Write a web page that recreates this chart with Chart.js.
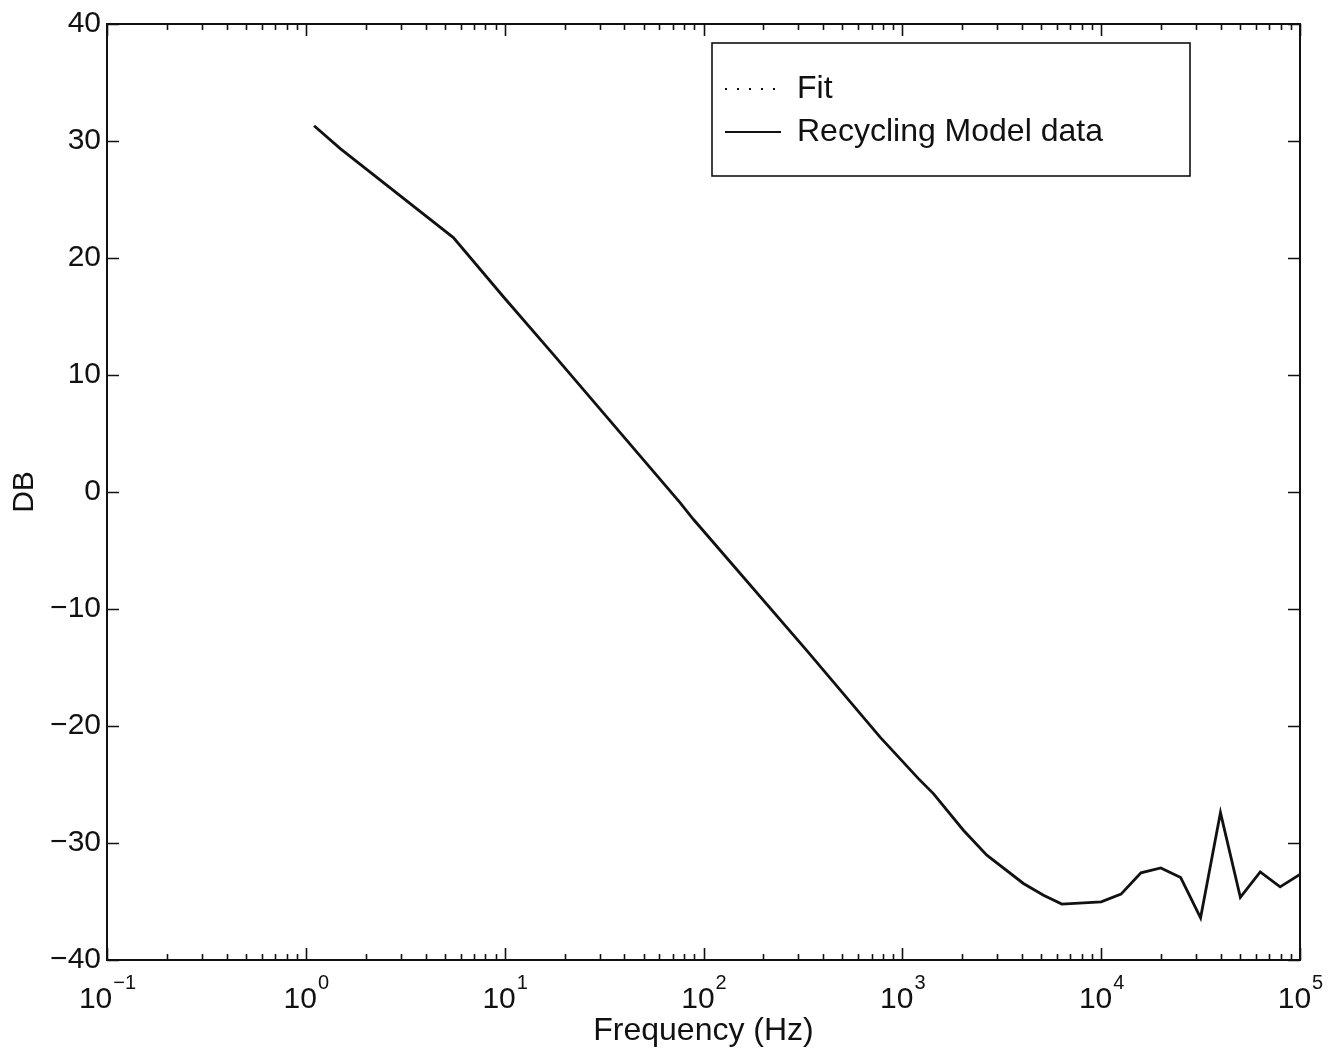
<!DOCTYPE html>
<html lang="en">
<head>
<meta charset="UTF-8">
<title>Recycling Model frequency response</title>
<script src="https://cdn.jsdelivr.net/npm/chart.js@4"></script>
<style>
  html, body { margin: 0; padding: 0; background: #fff; }
  #wrap { width: 1341px; height: 1057px; }
</style>
</head>
<body>
<div id="wrap"><canvas id="bode" width="1341" height="1057"></canvas></div>
<script>
// magnitude response of the recycling model, frequency in Hz, level in dB
const freqHz = [1.10, 1.49, 5.52, 10.0, 17.6, 76.2, 88.9, 331, 773, 1205, 1433, 2028, 2660,
                4064, 5129, 6339, 10000, 12590, 15850, 19950, 25120, 31620, 39810, 50120,
                63100, 79430, 100000];
const modelDb = [31.3, 29.35, 21.75, 16.56, 11.74, -0.91, -2.33, -13.56, -20.95, -24.5, -25.78,
                 -28.91, -31.04, -33.46, -34.46, -35.22, -35.03, -34.37, -32.55, -32.13, -32.95,
                 -36.39, -27.4, -34.65, -32.47, -33.75, -32.69];
const fitDb = [];  // fit curve has no samples on this plot

const yTicks = [-40, -30, -20, -10, 0, 10, 20, 30, 40];
const decadeExps = [-1, 0, 1, 2, 3, 4, 5];

const FONT = '"Liberation Sans", Arial, Helvetica, sans-serif';
const INK = '#111';

// box round the axes, inward ticks on all four sides, 10^n labels
const framePlugin = {
    id: 'frame',
    afterDraw(chart) {
        const { ctx, chartArea: a, scales: { x, y } } = chart;
        ctx.save();
        ctx.strokeStyle = INK;
        ctx.lineWidth = 2;
        ctx.strokeRect(a.left, a.top, a.right - a.left, a.bottom - a.top);

        ctx.lineWidth = 1.6;
        ctx.beginPath();
        yTicks.forEach(v => {
            const py = Math.round(y.getPixelForValue(v)) + 0.5;
            ctx.moveTo(a.left, py); ctx.lineTo(a.left + 12, py);
            ctx.moveTo(a.right, py); ctx.lineTo(a.right - 12, py);
        });
        decadeExps.forEach((e, k) => {
            for (let m = 1; m <= 9; m++) {
                if (m > 1 && k === decadeExps.length - 1) break;
                const px = Math.round(x.getPixelForValue(m * Math.pow(10, e))) + 0.5;
                const len = m === 1 ? 12 : 6;
                ctx.moveTo(px, a.bottom); ctx.lineTo(px, a.bottom - len);
                ctx.moveTo(px, a.top); ctx.lineTo(px, a.top + len);
            }
        });
        ctx.stroke();

        // decade labels with superscript exponent
        ctx.fillStyle = INK;
        ctx.textBaseline = 'alphabetic';
        ctx.textAlign = 'left';
        decadeExps.forEach(e => {
            const px = x.getPixelForValue(Math.pow(10, e));
            const exp = e < 0 ? '\u2212' + Math.abs(e) : String(e);
            ctx.font = '30px ' + FONT;
            const wBase = ctx.measureText('10').width;
            ctx.font = '20px ' + FONT;
            const wExp = ctx.measureText(exp).width;
            const start = px - (wBase + wExp) / 2;
            ctx.font = '30px ' + FONT;
            ctx.fillText('10', start, a.bottom + 48);
            ctx.font = '20px ' + FONT;
            ctx.fillText(exp, start + wBase + 1, a.bottom + 29);
        });
        ctx.restore();
    }
};

// boxed legend in the upper right of the axes
const legendBox = {
    id: 'legendBox',
    afterDraw(chart) {
        const { ctx } = chart;
        const box = { left: 712, top: 43, right: 1190, bottom: 176 };
        const rows = [89, 132];
        ctx.save();
        ctx.fillStyle = '#fff';
        ctx.fillRect(box.left, box.top, box.right - box.left, box.bottom - box.top);
        ctx.strokeStyle = INK;
        ctx.lineWidth = 1.6;
        ctx.strokeRect(box.left, box.top, box.right - box.left, box.bottom - box.top);
        chart.data.datasets.forEach((ds, i) => {
            const ry = rows[i];
            ctx.beginPath();
            ctx.setLineDash(ds.borderDash || []);
            ctx.lineWidth = Math.min(ds.borderWidth, 2.2);
            ctx.strokeStyle = ds.borderColor;
            ctx.moveTo(725, ry);
            ctx.lineTo(781, ry);
            ctx.stroke();
            ctx.setLineDash([]);
            ctx.fillStyle = INK;
            ctx.font = '32px ' + FONT;
            ctx.textBaseline = 'middle';
            ctx.textAlign = 'left';
            ctx.fillText(ds.label, 797, ry);
        });
        ctx.restore();
    }
};

new Chart(document.getElementById('bode'), {
    type: 'line',
    data: {
        datasets: [
            {
                label: 'Fit',
                data: fitDb.map((v, i) => ({ x: freqHz[i], y: v })),
                borderColor: INK,
                borderWidth: 2,
                borderDash: [2, 10],
                pointRadius: 0
            },
            {
                label: 'Recycling Model data',
                data: freqHz.map((f, i) => ({ x: f, y: modelDb[i] })),
                borderColor: INK,
                borderWidth: 2.8,
                pointRadius: 0,
                tension: 0
            }
        ]
    },
    options: {
        responsive: false,
        animation: false,
        devicePixelRatio: 1,
        layout: { padding: { left: 0, top: 22, right: 41, bottom: 0 } },
        plugins: {
            legend: { display: false },
            tooltip: { enabled: false }
        },
        scales: {
            x: {
                type: 'logarithmic',
                min: 0.1,
                max: 100000,
                grid: { display: false },
                border: { display: false },
                ticks: { display: false },
                title: {
                    display: true,
                    text: 'Frequency (Hz)',
                    color: INK,
                    font: { family: FONT, size: 32 },
                    padding: { top: 0, bottom: 7 }
                },
                afterFit(scale) { scale.height = 97; }
            },
            y: {
                min: -40,
                max: 40,
                grid: { display: false, drawTicks: false },
                border: { display: false },
                afterBuildTicks(scale) { scale.ticks = yTicks.map(v => ({ value: v })); },
                ticks: {
                    color: INK,
                    padding: 6,
                    font: { family: FONT, size: 30 },
                    callback: v => v < 0 ? '\u2212' + Math.abs(v) : String(v)
                },
                title: {
                    display: true,
                    text: 'DB',
                    color: INK,
                    font: { family: FONT, size: 30 },
                    padding: { top: 7, bottom: 0 }
                },
                afterFit(scale) { scale.width = 107; }
            }
        }
    },
    plugins: [framePlugin, legendBox]
});
</script>
</body>
</html>
